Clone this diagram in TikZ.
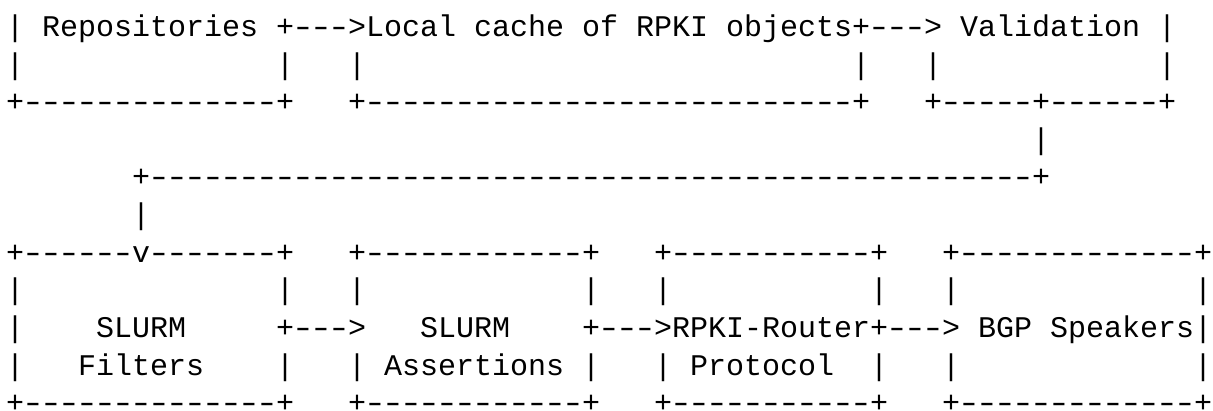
\documentclass[tikz,border=0pt]{standalone}
\usepackage{fontspec}
\setmonofont{Liberation Mono}
\newcommand\onedash{\makebox[0.6em][c]{\scalebox{1.35}[1]{-}}}
\newcommand\dsh[1]{\ifnum#1>0 \onedash\expandafter\dsh\expandafter{\the\numexpr#1-1\relax}\fi}
\newcommand\asc[4]{\node[asciitxt] (#1) at ({6+18*#2},{36.6+37.6*#3}) {#4};}
\tikzset{asciitxt/.style={font=\ttfamily\fontsize{15}{18}\selectfont, anchor=base west, inner sep=0pt, outer sep=0pt, text=black}}
\begin{document}
\begin{tikzpicture}[x=0.5pt,y=-0.5pt]
\fill[white] (0,0) rectangle (1213,411);
\useasboundingbox (0,0) rectangle (1213,411);
% row 0
\asc{repoL}{0}{0}{|}
\asc{repo}{2}{0}{Repositories}
\asc{arrA}{15}{0}{+\dsh{3}>}
\asc{cache}{20}{0}{Local cache of RPKI objects}
\asc{arrB}{47}{0}{+\dsh{3}>}
\asc{valid}{53}{0}{Validation}
\asc{validR}{64}{0}{|}
% row 1
\foreach \c/\n in {0/a,15/b,19/c,47/d,51/e,64/f}{\asc{rowone\n}{\c}{1}{|}}
% row 2
\asc{repoB}{0}{2}{+\dsh{14}+}
\asc{cacheB}{19}{2}{+\dsh{27}+}
\asc{validB}{51}{2}{+\dsh{5}+\dsh{6}+}
% row 3-5
\asc{vdown}{57}{3}{|}
\asc{loop}{7}{4}{+\dsh{49}+}
\asc{fdown}{7}{5}{|}
% row 6
\asc{filtT}{0}{6}{+\dsh{6}v\dsh{7}+}
\asc{assT}{19}{6}{+\dsh{12}+}
\asc{rtrT}{36}{6}{+\dsh{11}+}
\asc{bgpT}{52}{6}{+\dsh{13}+}
% row 7
\foreach \c/\n in {0/a,15/b,19/c,32/d,36/e,48/f,52/g,66/h}{\asc{rowseven\n}{\c}{7}{|}}
% row 8
\asc{filtL}{0}{8}{|}
\asc{slurmA}{5}{8}{SLURM}
\asc{arrC}{15}{8}{+\dsh{3}>}
\asc{slurmB}{23}{8}{SLURM}
\asc{arrD}{32}{8}{+\dsh{3}>}
\asc{rtr}{37}{8}{RPKI-Router}
\asc{arrE}{48}{8}{+\dsh{3}>}
\asc{bgp}{54}{8}{BGP Speakers}
\asc{bgpR}{66}{8}{|}
% row 9
\foreach \c/\n in {0/a,15/b,19/c,32/d,36/e,48/f,52/g,66/h}{\asc{rownine\n}{\c}{9}{|}}
\asc{filters}{4}{9}{Filters}
\asc{assert}{21}{9}{Assertions}
\asc{proto}{38}{9}{Protocol}
% row 10
\asc{filtB}{0}{10}{+\dsh{14}+}
\asc{assB}{19}{10}{+\dsh{12}+}
\asc{rtrB}{36}{10}{+\dsh{11}+}
\asc{bgpB}{52}{10}{+\dsh{13}+}
\end{tikzpicture}
\end{document}
